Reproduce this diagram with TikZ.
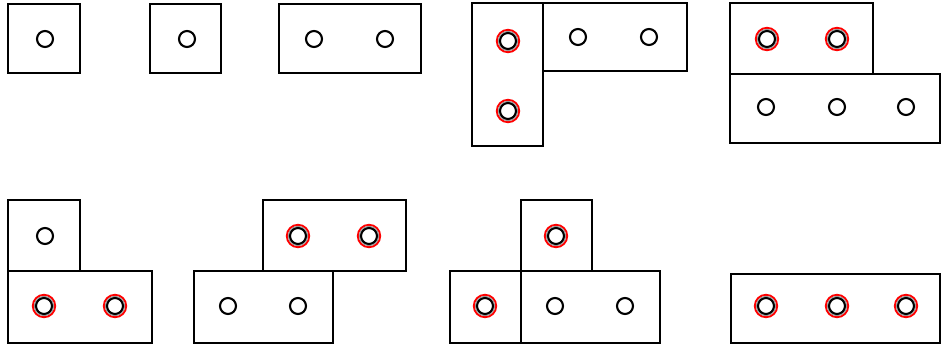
\documentclass[tikz,border=0pt]{standalone}
\begin{document}
\begin{tikzpicture}[x=1pt,y=-1pt,
  plate/.style={draw=black,line width=2.3pt,fill=white},
  hole/.style={draw=black,line width=2.1pt},
  ring/.style={draw=red,line width=1.9pt}]
\useasboundingbox (0,0) rectangle (941,344);
\newcommand{\hl}[1]{\draw[hole] (#1) circle (8);}
\newcommand{\rh}[1]{\draw[ring] (#1) circle (11.2);\draw[black!40,line width=0.8pt] (#1) circle (9.7);\draw[hole] (#1) circle (8);}
% row 1
\draw[plate] (8,4) rectangle (80,73); \hl{45,39}
\draw[plate] (150,4) rectangle (221,73); \hl{187,39}
\draw[plate] (279,4) rectangle (421,73); \hl{314,39} \hl{385,39}
\draw[plate] (472,3) rectangle (543,146); \rh{508,41} \rh{508,111}
\draw[plate] (543,3) rectangle (687,71); \hl{578,37} \hl{649,37}
\draw[plate] (730,3) rectangle (873,74); \rh{767,39} \rh{837,39}
\draw[plate] (730,74) rectangle (940,143); \hl{766,107} \hl{837,107} \hl{906,107}
% row 2
\draw[plate] (8,200) rectangle (80,271); \hl{45,236}
\draw[plate] (8,271) rectangle (152,343); \rh{44,306} \rh{115,306}
\draw[plate] (263,200) rectangle (406,271); \rh{298,236} \rh{369,236}
\draw[plate] (194,271) rectangle (333,343); \hl{228,306} \hl{298,306}
\draw[plate] (521,200) rectangle (592,271); \rh{556,236}
\draw[plate] (450,271) rectangle (521,343); \rh{485,306}
\draw[plate] (521,271) rectangle (660,343); \hl{555,306} \hl{625,306}
\draw[plate] (731,274) rectangle (940,343); \rh{766,306} \rh{837,306} \rh{906,306}
\end{tikzpicture}
\end{document}
